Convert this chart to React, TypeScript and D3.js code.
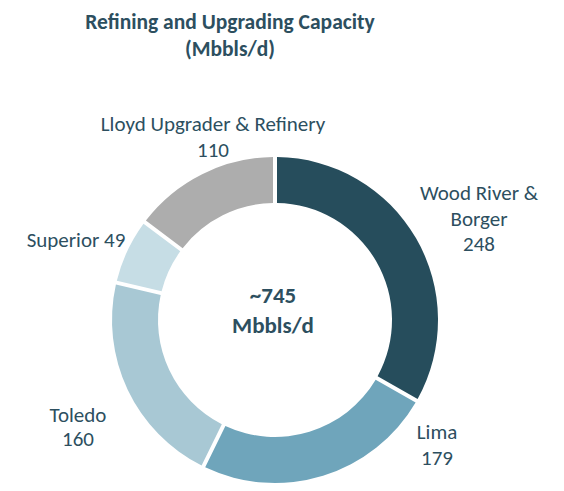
import React from "react";
import * as d3 from "d3";

const categories = ["Wood River & Borger", "Lima", "Toledo", "Superior", "Lloyd Upgrader & Refinery"];
const values = [248, 179, 160, 49, 110];
const colors = ["#264d5c", "#6fa5bb", "#a8c8d4", "#c6dde5", "#adadad"];
const labelLines = [["Wood River &", "Borger", "248"], ["Lima", "179"], ["Toledo", "160"], ["Superior 49"], ["Lloyd Upgrader & Refinery", "110"]];
const labelPos: [number, number, number][] = [
  [479, 200, 25.5],
  [437, 439, 26],
  [78, 422, 23.5],
  [76, 247, 0],
  [213, 131, 26],
];
const titleLines = ["Refining and Upgrading Capacity", "(Mbbls/d)"];
const centerLines = ["~745", "Mbbls/d"];

export default function App() {
  const W = 564, H = 491;
  const cx = 275, cy = 320, R = 163, r = 117;
  const pie = d3.pie<number>().sort(null).value((d) => d)(values);
  const arc = d3.arc<d3.PieArcDatum<number>>().innerRadius(r).outerRadius(R).padAngle(4 / 140).padRadius(140);
  const font = "Carlito, Calibri, Lato, 'Open Sans', sans-serif";
  const txt = "#2d4f5f";
  return (
    <svg width={W} height={H} style={{ position: "absolute", left: 0, top: 0 }} fontFamily={font}>
      <rect width={W} height={H} fill="#fff" />
      {titleLines.map((t, i) => (
        <text key={i} x={230} y={29 + i * 27} textAnchor="middle" fontWeight="bold" fontSize={21.5} fill={txt}>{t}</text>
      ))}
      <g transform={`translate(${cx},${cy})`}>
        {pie.map((p, i) => (
          <path key={i} d={arc(p) || ""} fill={colors[i]} />
        ))}
      </g>
      {centerLines.map((t, i) => (
        <text key={i} x={273} y={303 + i * 30} textAnchor="middle" fontWeight="bold" fontSize={23} fill={txt}>{t}</text>
      ))}
      {labelLines.map((lines, i) =>
        lines.map((l, j) => (
          <text key={i + "-" + j} x={labelPos[i][0]} y={labelPos[i][1] + j * labelPos[i][2]} textAnchor="middle" fontSize={21} fill={txt}>{l}</text>
        ))
      )}
    </svg>
  );
}
